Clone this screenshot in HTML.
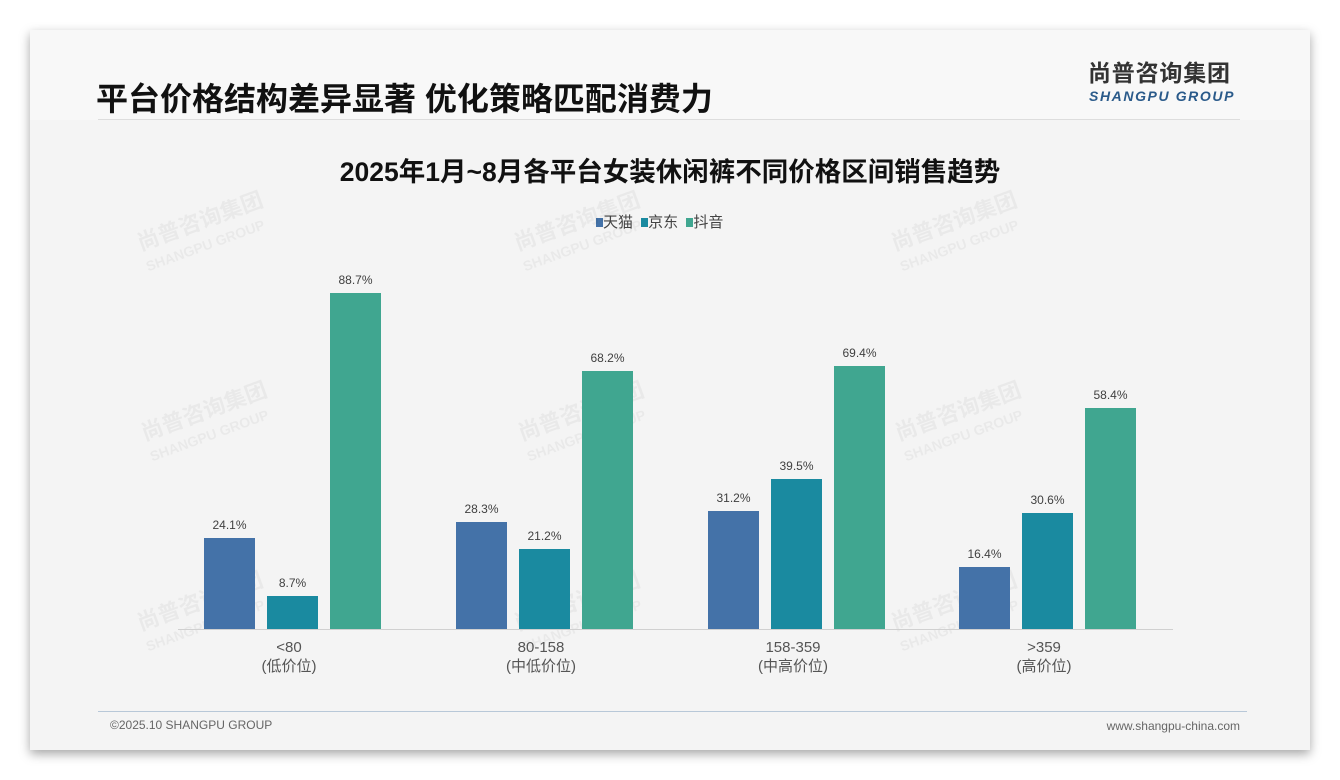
<!DOCTYPE html>
<html><head><meta charset="utf-8"><style>
body{margin:0;width:1340px;height:780px;background:#fff;position:relative;overflow:hidden;font-family:"Liberation Sans","Noto Sans CJK SC",sans-serif}
.card{position:absolute;left:30px;top:30px;width:1280px;height:720px;background:#f4f4f4;box-shadow:0 4px 10px rgba(0,0,0,.35)}
.hdr{position:absolute;left:30px;top:30px;width:1280px;height:90px;background:#f8f8f8}
.t{position:absolute;white-space:nowrap}
.bar{position:absolute;width:51px}
.v{position:absolute;width:60px;text-align:center;font-size:12px;color:#404040}
.wm{position:absolute;color:rgba(0,0,0,.045);font-weight:bold;transform:rotate(-20deg);line-height:1}
</style></head><body>
<div class="card"></div><div class="hdr"></div>
<div class="t" style="left:96px;top:74px;font-size:32px;font-weight:bold;color:#111">平台价格结构差异显著 优化策略匹配消费力</div>
<div class="t" style="left:1088px;top:59px;font-size:23px;line-height:28px;font-weight:bold;color:#333;letter-spacing:0.8px">尚普咨询集团</div>
<div class="t" style="left:1089px;top:88px;font-size:14px;line-height:16px;font-weight:bold;font-style:italic;color:#2a5a8a;letter-spacing:1.6px">SHANGPU GROUP</div>
<div style="position:absolute;left:98px;top:119px;width:1142px;height:1px;background:#ddd"></div>
<div class="t" style="left:0;width:1340px;text-align:center;top:150px;font-size:26.5px;font-weight:bold;color:#111">2025年1月~8月各平台女装休闲裤不同价格区间销售趋势</div>
<div class="t" style="left:596px;top:211px;font-size:15px;color:#444">
<span style="display:inline-block;width:7px;height:9px;background:#4472a8"></span>天猫 <span style="display:inline-block;width:7px;height:9px;background:#1a8aa0;margin-left:4px"></span>京东 <span style="display:inline-block;width:7px;height:9px;background:#40a690;margin-left:4px"></span>抖音</div>
<div class="wm" style="left:138px;top:210px;font-size:22px">尚普咨询集团<br><span style="font-size:14px">SHANGPU GROUP</span></div>
<div class="wm" style="left:515px;top:210px;font-size:22px">尚普咨询集团<br><span style="font-size:14px">SHANGPU GROUP</span></div>
<div class="wm" style="left:892px;top:210px;font-size:22px">尚普咨询集团<br><span style="font-size:14px">SHANGPU GROUP</span></div>
<div class="wm" style="left:142px;top:400px;font-size:22px">尚普咨询集团<br><span style="font-size:14px">SHANGPU GROUP</span></div>
<div class="wm" style="left:519px;top:400px;font-size:22px">尚普咨询集团<br><span style="font-size:14px">SHANGPU GROUP</span></div>
<div class="wm" style="left:896px;top:400px;font-size:22px">尚普咨询集团<br><span style="font-size:14px">SHANGPU GROUP</span></div>
<div class="wm" style="left:138px;top:590px;font-size:22px">尚普咨询集团<br><span style="font-size:14px">SHANGPU GROUP</span></div>
<div class="wm" style="left:515px;top:590px;font-size:22px">尚普咨询集团<br><span style="font-size:14px">SHANGPU GROUP</span></div>
<div class="wm" style="left:892px;top:590px;font-size:22px">尚普咨询集团<br><span style="font-size:14px">SHANGPU GROUP</span></div>
<div id="bars"></div>
<div style="position:absolute;left:178px;top:629px;width:995px;height:1px;background:#d0d0d0"></div>
<div class="t" style="left:229px;width:120px;text-align:center;top:638px;font-size:15px;color:#555;line-height:19px">&lt;80<br>(低价位)</div>
<div class="t" style="left:481px;width:120px;text-align:center;top:638px;font-size:15px;color:#555;line-height:19px">80-158<br>(中低价位)</div>
<div class="t" style="left:733px;width:120px;text-align:center;top:638px;font-size:15px;color:#555;line-height:19px">158-359<br>(中高价位)</div>
<div class="t" style="left:984px;width:120px;text-align:center;top:638px;font-size:15px;color:#555;line-height:19px">&gt;359<br>(高价位)</div>
<div style="position:absolute;left:98px;top:711px;width:1149px;height:1px;background:#b8c8d8"></div>
<div class="t" style="left:110px;top:718px;font-size:12px;color:#666">©2025.10 SHANGPU GROUP</div>
<div class="t" style="right:100px;top:719px;font-size:12px;color:#666">www.shangpu-china.com</div>
<script>
var d=[[24.1,8.7,88.7],[28.3,21.2,68.2],[31.2,39.5,69.4],[16.4,30.6,58.4]],c=['#4472a8','#1a8aa0','#40a690'],x0=[204,456,708,959],h='';
d.forEach(function(g,i){g.forEach(function(v,j){var x=x0[i]+63*j,hh=v*3.788,t=629-hh;
h+='<div class="bar" style="left:'+x+'px;top:'+t+'px;height:'+hh+'px;background:'+c[j]+'"></div><div class="v" style="left:'+(x-4.5)+'px;top:'+(t-20)+'px">'+v.toFixed(1)+'%</div>';});});
document.getElementById('bars').innerHTML=h;
</script>
</body></html>
